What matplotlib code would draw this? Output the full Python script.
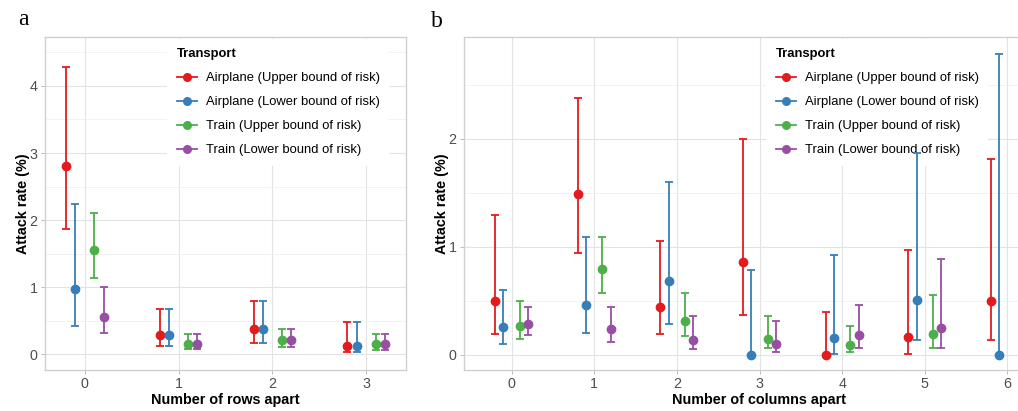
import numpy as np
import matplotlib
matplotlib.use("Agg")
import matplotlib.pyplot as plt
from matplotlib.lines import Line2D

plt.rcParams['font.family'] = ['Liberation Sans', 'DejaVu Sans']

# ---- data ----
series_names = ["Airplane (Upper bound of risk)", "Airplane (Lower bound of risk)",
                "Train (Upper bound of risk)", "Train (Lower bound of risk)"]
series_colors = ["#E41A1C", "#377EB8", "#4DAF4A", "#984EA3"]
dodge = [-0.2, -0.1, 0.1, 0.2]

# panel a: rows apart
rows_apart = [0, 1, 2, 3]
rows_air_up = [2.81, 0.29, 0.37, 0.13]
rows_air_up_lo = [1.86, 0.12, 0.17, 0.03]
rows_air_up_hi = [4.28, 0.68, 0.80, 0.48]
rows_air_low = [0.97, 0.29, 0.37, 0.13]
rows_air_low_lo = [0.42, 0.12, 0.17, 0.03]
rows_air_low_hi = [2.24, 0.68, 0.80, 0.48]
rows_train_up = [1.55, 0.16, 0.21, 0.15]
rows_train_up_lo = [1.13, 0.08, 0.11, 0.07]
rows_train_up_hi = [2.11, 0.30, 0.37, 0.30]
rows_train_low = [0.55, 0.16, 0.21, 0.15]
rows_train_low_lo = [0.31, 0.08, 0.11, 0.07]
rows_train_low_hi = [1.00, 0.30, 0.37, 0.30]

# panel b: columns apart (no train data at 6)
cols_apart = [0, 1, 2, 3, 4, 5, 6]
cols_air_up = [0.50, 1.49, 0.44, 0.855, 0.0, 0.167, 0.494]
cols_air_up_lo = [0.19, 0.94, 0.19, 0.367, 0.0, 0.01, 0.136]
cols_air_up_hi = [1.29, 2.38, 1.05, 2.00, 0.40, 0.97, 1.81]
cols_air_low = [0.26, 0.46, 0.685, 0.0, 0.16, 0.506, 0.0]
cols_air_low_lo = [0.105, 0.20, 0.29, 0.0, 0.01, 0.14, 0.0]
cols_air_low_hi = [0.60, 1.09, 1.60, 0.785, 0.925, 1.87, 2.78]
cols_train_up = [0.27, 0.79, 0.315, 0.15, 0.09, 0.19]
cols_train_up_lo = [0.145, 0.575, 0.17, 0.06, 0.03, 0.062]
cols_train_up_hi = [0.50, 1.09, 0.575, 0.355, 0.27, 0.55]
cols_train_low = [0.29, 0.235, 0.135, 0.105, 0.18, 0.247]
cols_train_low_lo = [0.185, 0.12, 0.05, 0.03, 0.068, 0.068]
cols_train_low_hi = [0.445, 0.445, 0.36, 0.31, 0.457, 0.89]

rows_series = [(rows_air_up, rows_air_up_lo, rows_air_up_hi),
               (rows_air_low, rows_air_low_lo, rows_air_low_hi),
               (rows_train_up, rows_train_up_lo, rows_train_up_hi),
               (rows_train_low, rows_train_low_lo, rows_train_low_hi)]
cols_series = [(cols_air_up, cols_air_up_lo, cols_air_up_hi),
               (cols_air_low, cols_air_low_lo, cols_air_low_hi),
               (cols_train_up, cols_train_up_lo, cols_train_up_hi),
               (cols_train_low, cols_train_low_lo, cols_train_low_hi)]

W, H = 1018, 411
fig = plt.figure(figsize=(W / 100, H / 100), dpi=100)


def px_axes(left, top, right, bottom):
    return fig.add_axes([left / W, 1 - bottom / H, (right - left) / W, (bottom - top) / H])


def draw_panel(ax, xs, series, xlim, ylim, yticks, xlabel, leg_left):
    for (mid, lo, hi), col, dx in zip(series, series_colors, dodge):
        n = len(mid)
        x = np.array(xs[:n]) + dx
        mid = np.array(mid)
        yerr = [mid - np.array(lo), np.array(hi) - mid]
        ax.errorbar(x, mid, yerr=yerr, fmt='o', color=col, ms=6, elinewidth=1.3,
                    capsize=3.2, capthick=1.3, zorder=3)
    ax.set_xlim(*xlim)
    ax.set_ylim(*ylim)
    ax.set_xticks(xs)
    ax.set_yticks(yticks)
    ax.set_yticks(np.arange(0.5, ylim[1], 1.0), minor=True)
    ax.grid(True, which='major', color='#E3E3E3', lw=0.8, zorder=0)
    ax.grid(True, which='minor', axis='y', color='#F0F0F0', lw=0.6, zorder=0)
    ax.tick_params(which='major', length=2.75, width=0.6, color='#B3B3B3',
                   labelsize=10.3, labelcolor='#4D4D4D', pad=2.5)
    ax.tick_params(which='minor', length=0)
    for s in ax.spines.values():
        s.set_color('#D0D0D0')
        s.set_linewidth(1.0)
    ax.set_axisbelow(True)
    ax.set_xlabel(xlabel, fontsize=10.4, fontweight='bold', labelpad=1.5)
    ax.set_ylabel("Attack rate (%)", fontsize=10.4, fontweight='bold', labelpad=-0.3)

    handles = [Line2D([0], [0], color=c, marker='o', ms=5.5, lw=1.3) for c in series_colors]
    leg = ax.legend(handles, series_names, title="Transport", loc='upper left',
                    bbox_to_anchor=(leg_left / W, 1 - 38.6 / H), bbox_transform=fig.transFigure,
                    fontsize=9.4, title_fontproperties={'weight': 'bold', 'size': 9.4},
                    frameon=True, fancybox=False, framealpha=1, edgecolor='white',
                    handlelength=1.55, handletextpad=0.65, labelspacing=0.91,
                    borderpad=0.75, borderaxespad=0, alignment='left')
    leg.get_frame().set_linewidth(0)
    # legend hides the grid, but the error bars stay on top of it
    leg.set_zorder(2.5)


ax_a = px_axes(45, 37, 406, 370)
draw_panel(ax_a, rows_apart, rows_series, (-0.425, 3.425), (-0.235, 4.73),
           [0, 1, 2, 3, 4], "Number of rows apart", 167)

ax_b = px_axes(464, 37, 1055, 370)
draw_panel(ax_b, cols_apart, cols_series, (-0.575, 6.575), (-0.14, 2.94),
           [0, 1, 2], "Number of columns apart", 766)

fig.text(18 / W, 1 - 25 / H, "a", fontsize=17, family='Liberation Serif', va='baseline')
fig.text(431 / W, 1 - 27 / H, "b", fontsize=17, family='Liberation Serif', va='baseline')

fig.savefig("out.png", dpi=100)
